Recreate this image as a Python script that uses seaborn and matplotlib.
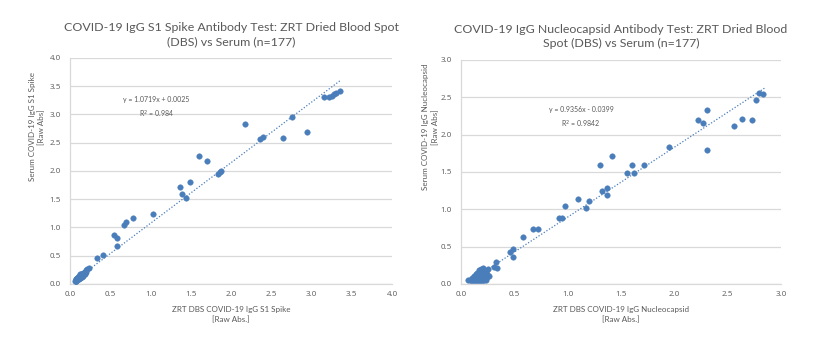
import numpy as np
import pandas as pd
import matplotlib
matplotlib.use("Agg")
import matplotlib.pyplot as plt
import seaborn as sns

# ---- S1 spike: DBS (x) vs serum (y) ----
spike_x = [3.35, 3.16, 3.22, 3.26, 3.28, 3.30, 2.76, 2.95, 2.64, 2.17, 2.36, 2.40,
           1.60, 1.70, 1.84, 1.86, 1.87, 1.37, 1.39, 1.49, 1.44, 1.035, 0.78, 0.67,
           0.69, 0.55, 0.58, 0.58, 0.41, 0.335, 0.215, 0.24, 0.20,
           0.06, 0.07, 0.07, 0.08, 0.08, 0.09, 0.09, 0.10, 0.10, 0.11, 0.11, 0.12,
           0.12, 0.13, 0.13, 0.14, 0.14, 0.15, 0.15, 0.16, 0.16, 0.17, 0.17, 0.18,
           0.18, 0.19, 0.20, 0.07, 0.08, 0.09, 0.10, 0.11, 0.12, 0.13, 0.14, 0.15,
           0.16, 0.09, 0.11, 0.13]
spike_y = [3.42, 3.31, 3.31, 3.33, 3.36, 3.38, 2.95, 2.69, 2.58, 2.84, 2.57, 2.60,
           2.27, 2.17, 1.95, 1.98, 2.00, 1.71, 1.60, 1.80, 1.53, 1.23, 1.16, 1.05,
           1.09, 0.87, 0.82, 0.67, 0.51, 0.455, 0.27, 0.28, 0.25,
           0.05, 0.06, 0.08, 0.07, 0.09, 0.08, 0.10, 0.09, 0.12, 0.10, 0.13, 0.12,
           0.15, 0.13, 0.16, 0.14, 0.17, 0.15, 0.18, 0.16, 0.19, 0.17, 0.20, 0.18,
           0.21, 0.20, 0.22, 0.05, 0.06, 0.07, 0.08, 0.09, 0.10, 0.11, 0.12, 0.13,
           0.14, 0.11, 0.14, 0.17]
spike_slope, spike_icpt = 1.0719, 0.0025
spike_fit_x = [0.05, 3.36]

# ---- Nucleocapsid: DBS (x) vs serum (y) ----
nuc_x = [2.79, 2.83, 2.77, 2.73, 2.63, 2.56, 2.31, 2.22, 2.27, 2.31, 1.95, 1.42,
         1.30, 1.60, 1.72, 1.56, 1.62, 1.32, 1.37, 1.37, 1.10, 1.20, 1.17, 0.975,
         0.92, 0.95, 0.675, 0.72, 0.58, 0.456, 0.49, 0.485, 0.33, 0.335, 0.31,
         0.07, 0.08, 0.09, 0.10, 0.11, 0.12, 0.13, 0.14, 0.15, 0.16, 0.17, 0.18,
         0.19, 0.20, 0.21, 0.22, 0.23, 0.10, 0.12, 0.14, 0.16, 0.18, 0.20, 0.22,
         0.24, 0.12, 0.14, 0.16, 0.18, 0.20, 0.22, 0.15, 0.17, 0.19, 0.21, 0.23,
         0.25, 0.17, 0.19, 0.21, 0.26, 0.24]
nuc_y = [2.56, 2.55, 2.46, 2.19, 2.21, 2.12, 2.33, 2.19, 2.16, 1.79, 1.84, 1.71,
         1.59, 1.60, 1.60, 1.49, 1.49, 1.25, 1.28, 1.19, 1.14, 1.11, 1.02, 1.05,
         0.88, 0.88, 0.73, 0.73, 0.63, 0.43, 0.47, 0.36, 0.29, 0.21, 0.23,
         0.06, 0.06, 0.05, 0.06, 0.05, 0.06, 0.05, 0.06, 0.05, 0.06, 0.05, 0.06,
         0.05, 0.06, 0.05, 0.06, 0.05, 0.08, 0.09, 0.10, 0.11, 0.09, 0.08, 0.09,
         0.10, 0.11, 0.13, 0.14, 0.12, 0.13, 0.11, 0.15, 0.16, 0.17, 0.15, 0.18,
         0.20, 0.19, 0.20, 0.21, 0.11, 0.14]
nuc_slope, nuc_icpt = 0.9356, -0.0399
nuc_fit_x = [0.09, 2.85]

sns.set_style("white")
plt.rcParams['font.family'] = ['Lato', 'DejaVu Sans']

blue = '#4A7EBB'
grid = '#D9D9D9'
txt = '#595959'

fig = plt.figure(figsize=(8.22, 3.51), dpi=100)
ax1 = fig.add_axes([0.0852, 0.1909, 0.3917, 0.6439])
ax2 = fig.add_axes([0.5608, 0.1909, 0.3893, 0.6382])

panels = [
    (ax1, spike_x, spike_y, spike_slope, spike_icpt, spike_fit_x, 4.0, 4.0,
     "COVID-19 IgG S1 Spike Antibody Test: ZRT Dried Blood Spot\n(DBS) vs Serum (n=177)",
     "ZRT DBS COVID-19 IgG S1 Spike\n[Raw Abs.]",
     "Serum COVID-19 IgG S1 Spike\n[Raw Abs]",
     "y = 1.0719x + 0.0025\nR$^2$ = 0.984", (1.07, 3.11), (-0.076, 0.695)),
    (ax2, nuc_x, nuc_y, nuc_slope, nuc_icpt, nuc_fit_x, 3.0, 3.0,
     "COVID-19 IgG Nucleocapsid Antibody Test: ZRT Dried Blood\nSpot (DBS) vs Serum (n=177)",
     "ZRT DBS COVID-19 IgG Nucleocapsid\n[Raw Abs.]",
     "Serum COVID-19 IgG Nucleocapsid\n[Raw Abs]",
     "y = 0.9356x - 0.0399\nR$^2$ = 0.9842", (1.125, 2.225), (-0.068, 0.70)),
]

for ax, xs, ys, m, b, fx, xmax, ymax, title, xl, yl, eq, eqpos, ylpos in panels:
    df = pd.DataFrame({'x': xs, 'y': ys})
    sns.scatterplot(data=df, x='x', y='y', ax=ax, color=blue, s=16,
                    edgecolor=blue, linewidth=0.3, zorder=3)
    fit = pd.DataFrame({'x': fx, 'y': [m * v + b for v in fx]})
    sns.lineplot(data=fit, x='x', y='y', ax=ax, color=blue, lw=0.9,
                 linestyle=(0, (1, 1.5)), zorder=2)
    ax.set_xlim(0, xmax)
    ax.set_ylim(0, ymax)
    ax.set_xticks(np.arange(0, xmax + 0.01, 0.5))
    ax.set_yticks(np.arange(0, ymax + 0.01, 0.5))
    ax.xaxis.set_major_formatter(matplotlib.ticker.FormatStrFormatter('%.1f'))
    ax.yaxis.set_major_formatter(matplotlib.ticker.FormatStrFormatter('%.1f'))
    ax.yaxis.grid(True, color=grid, lw=0.9)
    ax.set_axisbelow(True)
    for s in ['top', 'right']:
        ax.spines[s].set_visible(False)
    for s in ['left', 'bottom']:
        ax.spines[s].set_color(grid)
        ax.spines[s].set_linewidth(0.9)
    ax.tick_params(axis='x', length=0, colors=txt, pad=5)
    ax.tick_params(axis='y', length=0, colors=txt, pad=6.5)
    for lab in ax.get_xticklabels() + ax.get_yticklabels():
        lab.set_family(['Open Sans', 'DejaVu Sans'])
        lab.set_fontsize(5.8)
    ax.set_xlabel(xl, fontsize=5.8, color=txt, labelpad=6, linespacing=1.4)
    ax.set_ylabel(yl, fontsize=5.8, color=txt, linespacing=1.4)
    ax.yaxis.set_label_coords(ylpos[0], ylpos[1])
    ax.set_title(title, fontsize=8.9, color=txt, pad=9, linespacing=1.35)
    ax.text(eqpos[0], eqpos[1], eq, fontsize=5, color=txt, ha='center',
            va='center', linespacing=1.6)

fig.savefig("out.png", dpi=100)
